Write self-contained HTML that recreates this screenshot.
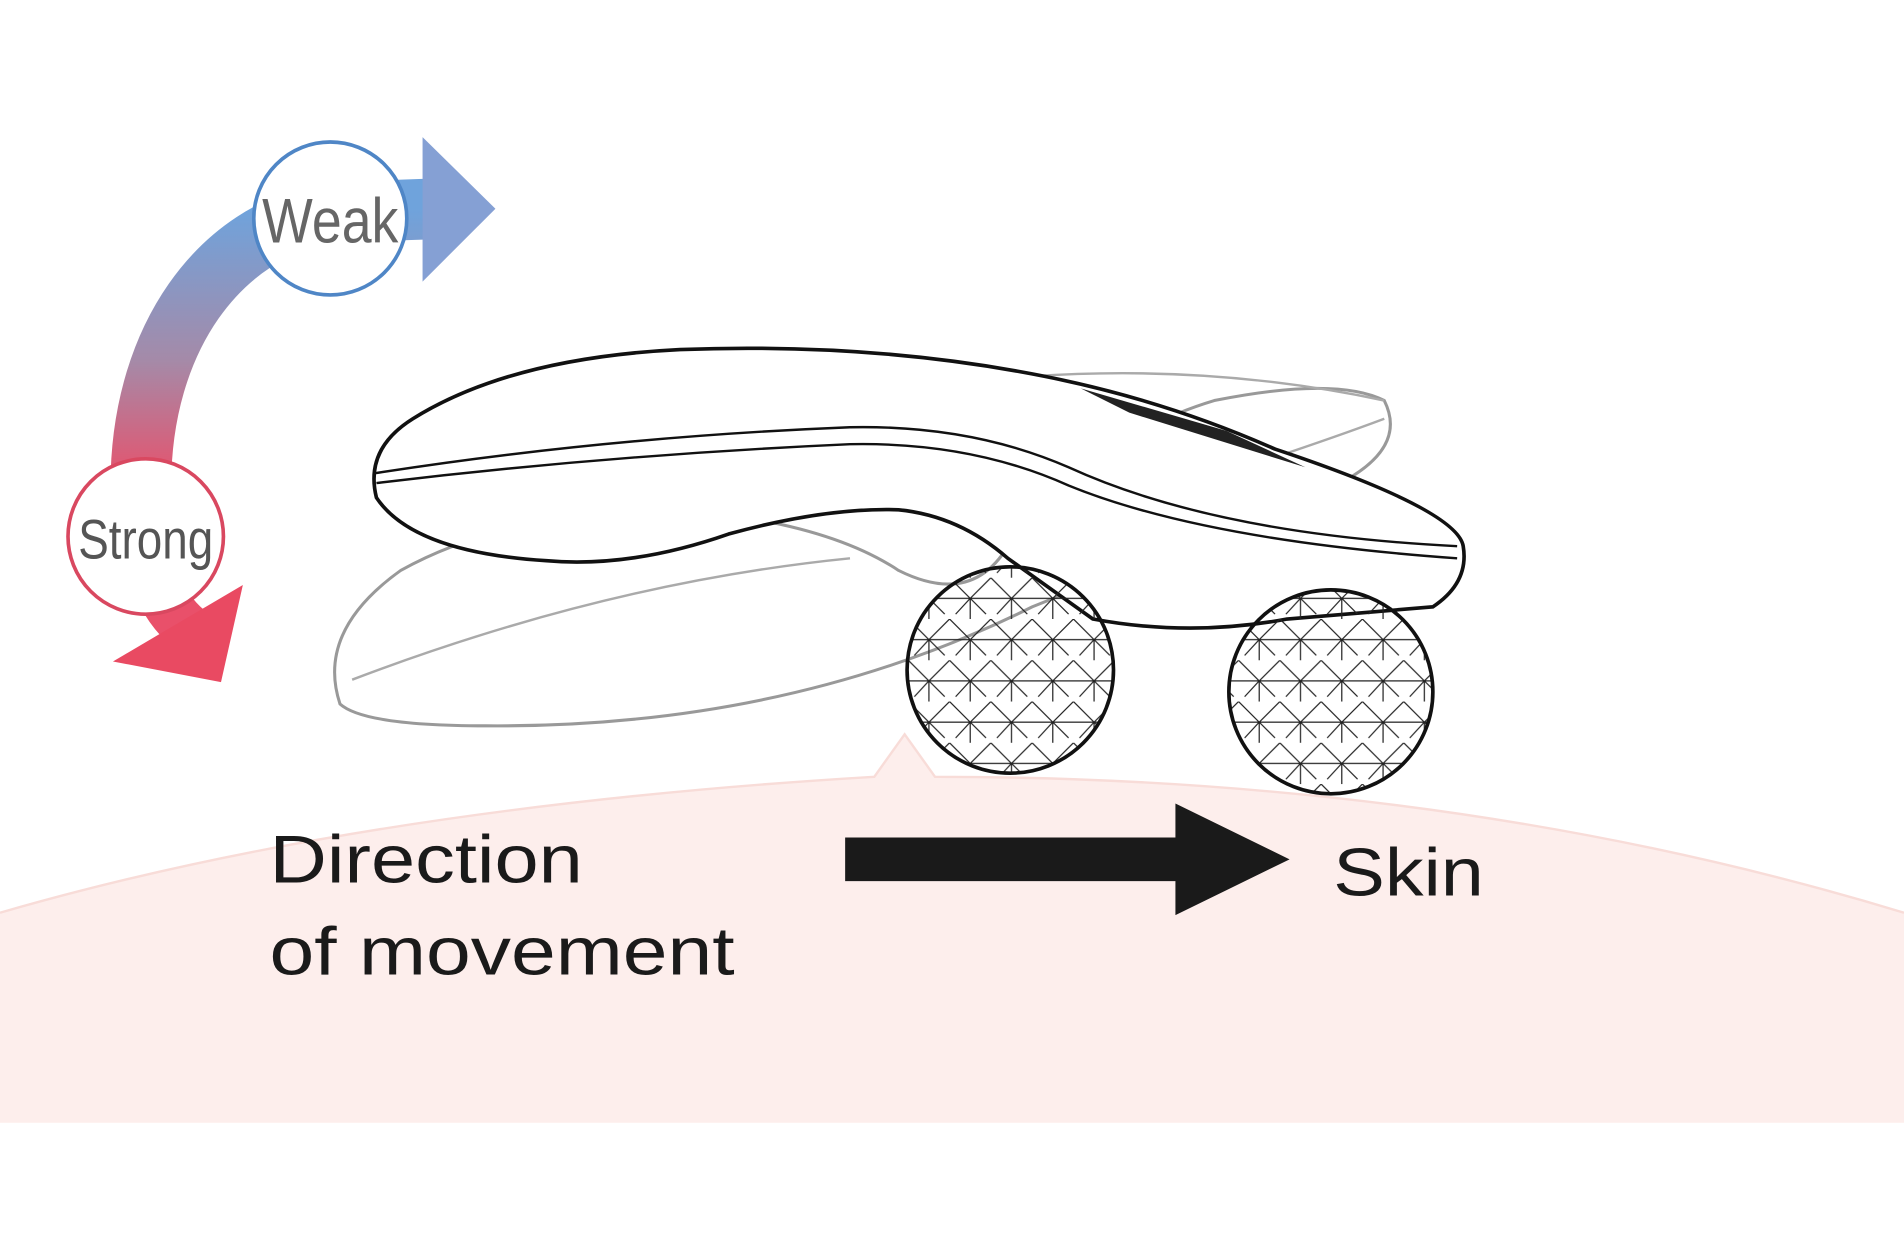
<!DOCTYPE html>
<html><head><meta charset="utf-8"><style>
html,body{margin:0;padding:0;background:#fff;width:1904px;height:1238px;overflow:hidden}
svg{display:block}
text{font-family:"Liberation Sans",sans-serif}
</style></head><body>
<svg width="1904" height="1238" viewBox="0 0 1568 1020" preserveAspectRatio="none">
<defs>
<linearGradient id="g" x1="0" y1="0" x2="0" y2="1">
<stop offset="0" stop-color="#6fa3dc"/><stop offset="0.55" stop-color="#a58aa8"/><stop offset="1" stop-color="#e9506a"/>
</linearGradient>
<pattern id="pt" width="34" height="34" patternUnits="userSpaceOnUse">
<path d="M0 0L17 17L34 0M17 17L17 34M0 17L34 17M5 30L17 17L30 30" stroke="#222" stroke-width="1" fill="none"/>
</pattern>
</defs>
<rect width="1568" height="1020" fill="#fff"/>
<path d="M0 752 Q300 665 720 640 L745 605 L770 640 Q1200 640 1568 752 L1568 925 L0 925 Z" fill="#fdeeec"/>
<path d="M0 752 Q300 665 720 640 L745 605 L770 640 Q1200 640 1568 752" fill="none" stroke="#f8dcd8" stroke-width="2"/>
<path d="M116 400 C116 280 180 190 272 175 L360 172" fill="none" stroke="url(#g)" stroke-width="50"/>
<polygon points="348,113 408,172 348,232" fill="#85a0d4"/>
<path d="M120 440 Q125 500 165 525" stroke="#e9506a" stroke-width="40" fill="none"/>
<polygon points="93,545 200,482 182,562" fill="#e94a62"/>
<circle cx="272" cy="180" r="63" fill="#fff" stroke="#4f86c6" stroke-width="3"/>
<text x="272" y="200" font-size="52" fill="#666" text-anchor="middle" transform="translate(272 0) scale(0.85 1) translate(-272 0)">Weak</text>
<circle cx="120" cy="442" r="64" fill="#fff" stroke="#d94860" stroke-width="3"/>
<text x="120" y="460" font-size="46" fill="#555" text-anchor="middle" transform="translate(120 0) scale(0.82 1) translate(-120 0)">Strong</text>
<path d="M280 580 Q260 520 330 470 Q420 420 560 420 Q680 430 740 470 Q800 500 830 450 Q900 360 1000 330 Q1100 310 1140 330 Q1160 370 1100 400 Q950 460 850 500 Q650 600 400 598 Q300 598 280 580Z" fill="none" stroke="#999" stroke-width="2.5"/>
<path d="M290 560 Q500 480 700 460 M850 310 Q1000 300 1140 330 M1040 380 Q1100 360 1140 345" fill="none" stroke="#aaa" stroke-width="2"/>
<path d="M310 410 Q300 370 340 345 Q420 295 560 288 Q720 282 860 310 Q960 330 1050 370 Q1200 420 1205 450 Q1210 480 1180 500 L1060 510 Q980 525 900 510 L830 460 Q790 425 740 420 Q680 418 600 440 Q520 468 450 462 Q340 455 310 410Z" fill="#fff" stroke="#111" stroke-width="3"/>
<path d="M308 390 Q500 360 700 352 Q800 350 880 385 Q1000 440 1200 450" fill="none" stroke="#111" stroke-width="2"/>
<path d="M310 398 Q500 375 700 366 Q800 364 880 400 Q990 445 1200 460" fill="none" stroke="#111" stroke-width="2"/>
<path d="M890 320 L1010 355 L1075 385 L930 340Z" fill="#222"/>
<circle cx="832" cy="552" r="85" fill="url(#pt)" stroke="#111" stroke-width="3"/>
<circle cx="1096" cy="570" r="84" fill="url(#pt)" stroke="#111" stroke-width="3"/>
<polygon points="696,690 968,690 968,662 1062,708 968,754 968,726 696,726" fill="#1a1a1a"/>
<text x="222" y="727" font-size="56" fill="#1a1a1a" textLength="258" lengthAdjust="spacingAndGlyphs" font-weight="500">Direction</text>
<text x="222" y="803" font-size="56" fill="#1a1a1a" textLength="383" lengthAdjust="spacingAndGlyphs" font-weight="500">of movement</text>
<text x="1098" y="738" font-size="56" fill="#1a1a1a" textLength="124" lengthAdjust="spacingAndGlyphs" font-weight="500">Skin</text>
</svg>
</body></html>
